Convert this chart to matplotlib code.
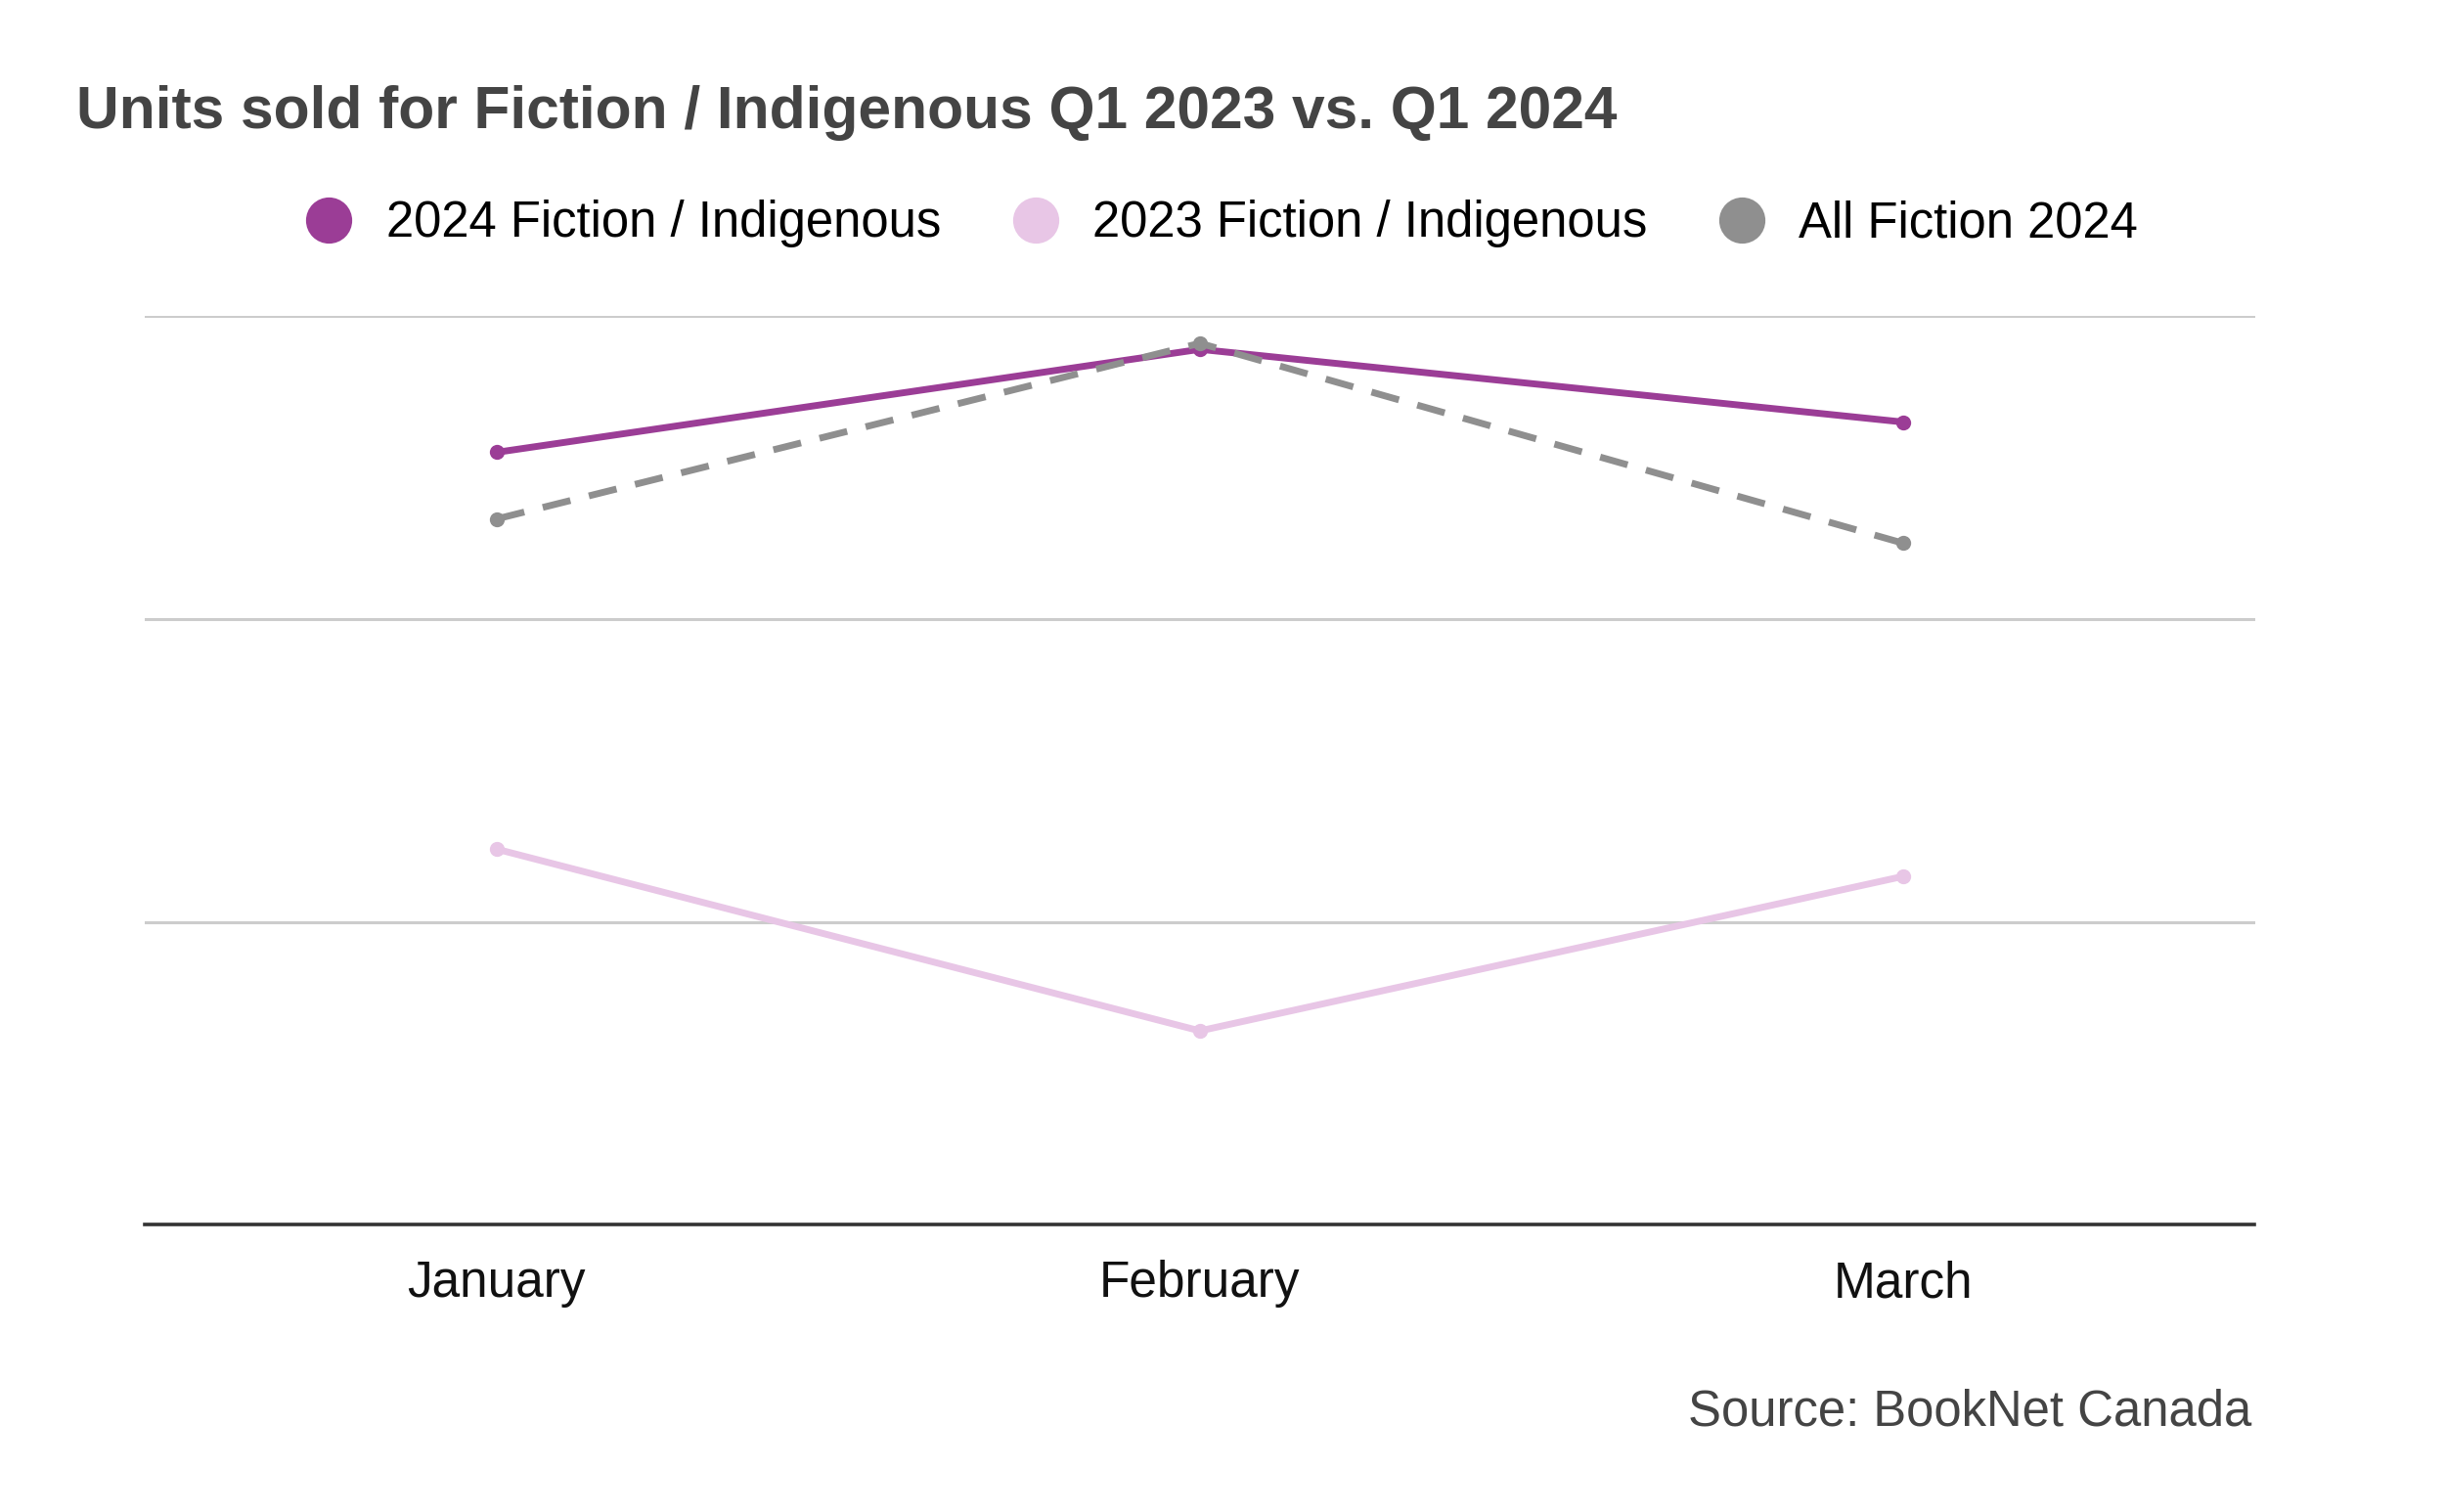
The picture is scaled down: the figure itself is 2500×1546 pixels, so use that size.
import matplotlib
matplotlib.use("Agg")
import matplotlib.pyplot as plt
from matplotlib.lines import Line2D

plt.rcParams['font.family'] = ['Liberation Sans', 'DejaVu Sans']

months = ["January", "February", "March"]
fic_indig_2024 = [2.55, 2.89, 2.65]
fic_indig_2023 = [1.24, 0.64, 1.15]
all_fiction_2024 = [2.33, 2.91, 2.25]

series_names = ["2024 Fiction / Indigenous", "2023 Fiction / Indigenous", "All Fiction 2024"]
colors = ["#9b3d96", "#e8c6e6", "#8f8f8f"]

fig = plt.figure(figsize=(12.5, 7.73), dpi=200)
ax = fig.add_axes([0.0593, 0.190, 0.8629, 0.601])

x = list(range(len(months)))
ax.plot(x, fic_indig_2024, color=colors[0], lw=2.5, marker="o", ms=4.5, zorder=3)
ax.plot(x, fic_indig_2023, color=colors[1], lw=2.5, marker="o", ms=4.5, zorder=3)
ax.plot(x, all_fiction_2024, color=colors[2], lw=2.5, marker="o", ms=4.5,
        dashes=(4.2, 2.8), zorder=4)

ax.set_xlim(-0.5, 2.5)
ax.set_ylim(0, 3)
ax.set_yticks([1, 2, 3])
ax.set_yticklabels([])
ax.grid(axis="y", color="#cccccc", lw=1.1)
ax.set_axisbelow(True)
ax.tick_params(axis="y", length=0)
ax.set_xticks(x)
ax.set_xticklabels(months, fontsize=18.5, color="#111111")
ax.tick_params(axis="x", length=0, pad=13)
for s in ["top", "left", "right"]:
    ax.spines[s].set_visible(False)
ax.spines["bottom"].set_color("#333333")
ax.spines["bottom"].set_linewidth(1.3)
ax.spines["bottom"].set_zorder(5)

fig.text(0.031, 0.925, "Units sold for Fiction / Indigenous Q1 2023 vs. Q1 2024",
         fontsize=21.8, fontweight="bold", color="#444444", ha="left", va="center")

handles = [Line2D([], [], ls="none", marker="o", ms=16, color=c) for c in colors]
fig.legend(handles, series_names, loc="center", bbox_to_anchor=(0.4994, 0.852),
           ncol=3, frameon=False, fontsize=18.3, handletextpad=0.65,
           columnspacing=1.4, handlelength=1.0)

fig.text(0.921, 0.066, "Source: BookNet Canada", fontsize=18.3, color="#444444",
         ha="right", va="center")

fig.savefig("out.png", dpi=200, facecolor="white")
